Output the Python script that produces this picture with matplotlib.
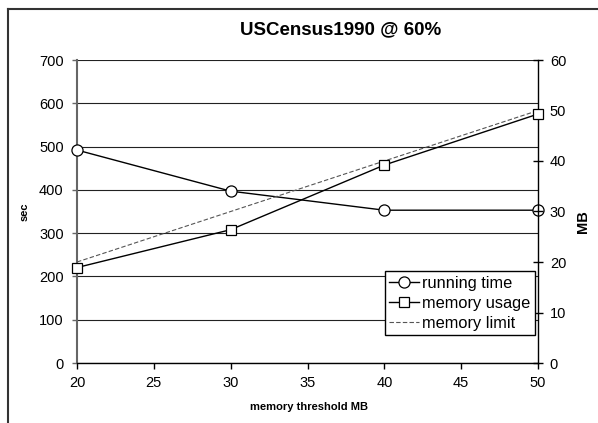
import matplotlib
matplotlib.use('Agg')
import matplotlib.pyplot as plt
from matplotlib.lines import Line2D

plt.rcParams['font.family'] = ['Liberation Sans', 'DejaVu Sans']

threshold = [20, 30, 40, 50]
running_time = [492, 397, 353, 353]      # sec, left axis
memory_usage = [18.9, 26.4, 39.2, 49.3]  # MB, right axis
memory_limit = [20, 30, 40, 50]          # MB, right axis

fig = plt.figure(figsize=(5.98, 4.23), dpi=100)
fig.patch.set_facecolor('white')

# outer frame (only top and left visible in the reference)
fig.add_artist(Line2D([8/598, 8/598], [0, 1-9/423], transform=fig.transFigure,
                      color='#333333', linewidth=1.5))
fig.add_artist(Line2D([8/598, 1], [1-9/423, 1-9/423], transform=fig.transFigure,
                      color='#333333', linewidth=1.5))

ax = fig.add_axes([77/598, 60/423, 461/598, 303/423])
ax.set_xlim(20, 50)
ax.set_ylim(0, 700)
ax.set_xticks([20, 25, 30, 35, 40, 45, 50])
ax.set_yticks(range(0, 701, 100))
ax.grid(axis='y', color='#222222', linewidth=0.8)
ax.set_axisbelow(True)
for s in ['top', 'right']:
    ax.spines[s].set_visible(False)
ax.spines['left'].set_color('#666666')
ax.spines['left'].set_linewidth(1.5)
ax.spines['bottom'].set_color('black')
ax.spines['bottom'].set_linewidth(1.0)
ax.tick_params(axis='y', direction='out', length=3.6, width=1, labelsize=10.5,
               pad=6, colors='#666666', labelcolor='black')
ax.tick_params(axis='x', direction='out', length=4, width=1, labelsize=10.5, pad=5)

l1, = ax.plot(threshold, running_time, color='black', linewidth=1.0,
              marker='o', markersize=8, markerfacecolor='white',
              markeredgecolor='black', markeredgewidth=0.9, clip_on=False,
              label='running time', zorder=5)

ax2 = ax.twinx()
ax2.set_ylim(0, 60)
ax2.set_yticks(range(0, 61, 10))
for s in ['top', 'left', 'bottom']:
    ax2.spines[s].set_visible(False)
ax2.spines['right'].set_linewidth(1.0)
ax2.tick_params(axis='y', direction='inout', length=7, width=1, labelsize=10.5, pad=5)

l3, = ax2.plot(threshold, memory_limit, color='#555555', linewidth=0.8,
               dashes=(4, 2), label='memory limit', zorder=3)
l2, = ax2.plot(threshold, memory_usage, color='black', linewidth=1.0,
               marker='s', markersize=7.5, markerfacecolor='white',
               markeredgecolor='black', markeredgewidth=0.9, clip_on=False,
               label='memory usage', zorder=4)

leg = ax2.legend(handles=[l1, l2, l3], loc='lower right',
                 bbox_to_anchor=(0.993, 0.092), fontsize=11.8,
                 fancybox=False, framealpha=1, edgecolor='black',
                 borderpad=0.25, labelspacing=0.32, handlelength=1.85,
                 handletextpad=0.2, borderaxespad=0, markerscale=1.0)
leg.get_frame().set_linewidth(1.0)
leg.set_zorder(10)

fig.text(341/598, 1-30/423, 'USCensus1990 @ 60%', ha='center', va='center',
         fontsize=13.5, fontweight='bold')
fig.text(309/598, 1-407/423, 'memory threshold MB', ha='center', va='center',
         fontsize=8, fontweight='bold')
fig.text(25/598, 1-212/423, 'sec', ha='center', va='center', rotation=90,
         fontsize=8, fontweight='bold')
fig.text(583/598, 1-222/423, 'MB', ha='center', va='center', rotation=90,
         fontsize=10.5, fontweight='bold')

fig.savefig('out.png', dpi=100)
